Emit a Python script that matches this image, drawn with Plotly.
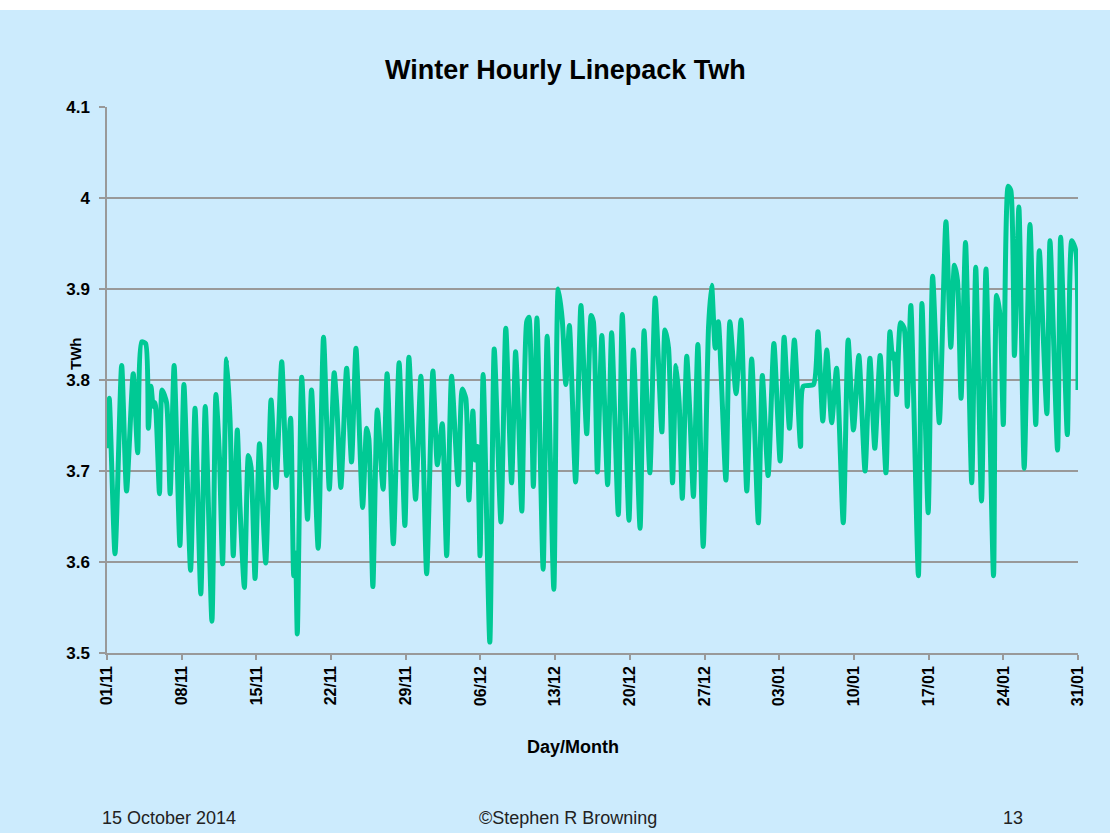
import plotly.graph_objects as go
import pandas as pd

# Hours since 01/11/2014 00:00 at each turning point
hours = [0, 5, 18, 33, 44, 59, 69, 78, 87, 93, 99, 104, 108, 118, 124, 134, 142, 151, 164, 173,
         188, 198, 211, 221, 236, 245, 253, 260, 269, 277, 284, 293, 299, 309, 318, 324, 333, 343,
         357, 369, 380, 393, 404, 413, 420, 424, 428, 438, 451, 460, 475, 487, 500, 511, 517, 526,
         539, 550, 560, 575, 584, 589, 598, 608, 621, 630, 644, 657, 670, 679, 694, 706, 719, 733,
         743, 754, 764, 775, 790, 799, 807, 814, 823, 828, 833, 839, 846, 861, 871, 886, 897, 910,
         919, 925, 933, 944, 949, 959, 967, 981, 990, 1005, 1015, 1024, 1032, 1040, 1054, 1066,
         1079, 1089, 1094, 1103, 1113, 1126, 1135, 1150, 1159, 1174, 1184, 1199, 1208, 1221, 1233,
         1248, 1255, 1263, 1272, 1280, 1287, 1294, 1304, 1311, 1319, 1329, 1341, 1353, 1360, 1368,
         1375, 1392, 1401, 1415, 1426, 1439, 1450, 1465, 1474, 1487, 1500, 1514, 1523, 1535, 1546,
         1560, 1566, 1589, 1599, 1610, 1619, 1630, 1641, 1656, 1667, 1679, 1691, 1705, 1716, 1727,
         1739, 1752, 1761, 1767, 1770, 1776, 1785, 1793, 1800, 1808, 1825, 1833, 1847, 1857, 1872,
         1887, 1898, 1906, 1913, 1921, 1931, 1945, 1954, 1967, 1977, 1994, 2001, 2009, 2016, 2027,
         2033, 2041, 2051, 2063, 2076, 2089, 2097, 2114, 2121, 2138, 2145, 2160, 2170, 2179, 2184]

linepack = [3.725, 3.780, 3.609, 3.816, 3.678, 3.807, 3.720, 3.842, 3.840, 3.747, 3.793, 3.771,
            3.775, 3.675, 3.789, 3.775, 3.675, 3.816, 3.618, 3.795, 3.591, 3.769, 3.565, 3.771,
            3.535, 3.784, 3.715, 3.598, 3.823, 3.753, 3.607, 3.745, 3.662, 3.572, 3.717, 3.704,
            3.582, 3.730, 3.599, 3.778, 3.682, 3.820, 3.695, 3.758, 3.585, 3.610, 3.521, 3.803,
            3.647, 3.789, 3.615, 3.847, 3.680, 3.808, 3.771, 3.682, 3.813, 3.710, 3.835, 3.660,
            3.747, 3.735, 3.573, 3.767, 3.680, 3.807, 3.620, 3.819, 3.640, 3.825, 3.669, 3.804,
            3.587, 3.810, 3.707, 3.752, 3.607, 3.804, 3.685, 3.790, 3.780, 3.668, 3.766, 3.712,
            3.727, 3.607, 3.806, 3.512, 3.834, 3.644, 3.857, 3.687, 3.831, 3.770, 3.656, 3.864,
            3.869, 3.683, 3.868, 3.592, 3.848, 3.570, 3.900, 3.866, 3.795, 3.860, 3.688, 3.882,
            3.741, 3.871, 3.864, 3.699, 3.849, 3.685, 3.852, 3.652, 3.872, 3.646, 3.833, 3.637,
            3.854, 3.698, 3.890, 3.743, 3.855, 3.835, 3.687, 3.816, 3.774, 3.670, 3.826, 3.763,
            3.672, 3.839, 3.617, 3.858, 3.904, 3.835, 3.864, 3.690, 3.864, 3.785, 3.866, 3.678,
            3.823, 3.643, 3.805, 3.695, 3.840, 3.711, 3.847, 3.747, 3.844, 3.727, 3.793, 3.795,
            3.853, 3.755, 3.833, 3.753, 3.813, 3.643, 3.844, 3.745, 3.827, 3.700, 3.824, 3.725,
            3.827, 3.698, 3.853, 3.824, 3.829, 3.784, 3.863, 3.857, 3.771, 3.882, 3.585, 3.884,
            3.654, 3.914, 3.753, 3.974, 3.836, 3.926, 3.909, 3.780, 3.951, 3.687, 3.924, 3.667,
            3.922, 3.585, 3.893, 3.869, 3.751, 4.013, 4.008, 3.827, 3.990, 3.703, 3.971, 3.751,
            3.942, 3.763, 3.953, 3.723, 3.957, 3.740, 3.953, 3.942, 3.789]

start = pd.Timestamp("2014-11-01")
times = [start + pd.Timedelta(hours=h) for h in hours]

tick_dates = pd.date_range("2014-11-01", "2015-01-31", freq="7D")
tick_text = [d.strftime("%d/%m") for d in tick_dates]
y_ticks = [3.5, 3.6, 3.7, 3.8, 3.9, 4.0, 4.1]
y_text = ["3.5", "3.6", "3.7", "3.8", "3.9", "4", "4.1"]

BG = "#CCEBFD"
FONT = "Arial, Liberation Sans, sans-serif"

fig = go.Figure()
fig.add_trace(go.Scatter(
    x=times, y=linepack, mode="lines",
    line=dict(color="#00C994", width=5, shape="spline", smoothing=0.6),
    hoverinfo="x+y", showlegend=False,
))

L, R, T, B = 107, 1078, 107, 653
W, H = 1110, 833

def px(x):
    return (x - L) / (R - L)

def py(y):
    return (B - y) / (B - T)

fig.update_layout(
    width=W, height=H,
    margin=dict(l=L, r=W - R, t=T, b=H - B),
    paper_bgcolor=BG, plot_bgcolor=BG,
    font=dict(family=FONT, color="#000000"),
    xaxis=dict(
        type="date",
        range=[tick_dates[0], tick_dates[-1]],
        tickmode="array", tickvals=list(tick_dates), ticktext=tick_text,
        tickangle=-90, tickfont=dict(size=16, family=FONT, weight="bold"),
        ticks="outside", ticklen=5, tickcolor="#999999", tickwidth=1.5,
        showline=True, linecolor="#999999", linewidth=1.5,
        showgrid=False, zeroline=False,
    ),
    yaxis=dict(
        range=[3.5, 4.1],
        tickmode="array", tickvals=y_ticks, ticktext=y_text,
        tickfont=dict(size=17, family=FONT, weight="bold"),
        ticks="outside", ticklen=6, tickcolor="#999999", tickwidth=1.5,
        ticklabelstandoff=6,
        showline=True, linecolor="#999999", linewidth=1.5,
        showgrid=True, gridcolor="#999999", gridwidth=1.5,
        zeroline=False,
    ),
    shapes=[dict(type="rect", xref="paper", yref="paper",
                 x0=px(-5), x1=px(W + 5), y0=py(10), y1=py(-5),
                 fillcolor="#FFFFFF", line=dict(width=0), layer="above")],
    annotations=[
        dict(text="<b>Winter Hourly Linepack Twh</b>", xref="paper", yref="paper",
             x=px(565), y=py(70), xanchor="center", yanchor="middle",
             showarrow=False, font=dict(size=27, family=FONT, color="#000000")),
        dict(text="<b>TWh</b>", xref="paper", yref="paper",
             x=px(75), y=py(354), xanchor="center", yanchor="middle", textangle=-90,
             showarrow=False, font=dict(size=15, family=FONT, color="#000000")),
        dict(text="<b>Day/Month</b>", xref="paper", yref="paper",
             x=px(573), y=py(747), xanchor="center", yanchor="middle",
             showarrow=False, font=dict(size=18, family=FONT, color="#000000")),
        dict(text="15 October 2014", xref="paper", yref="paper",
             x=px(100), y=py(818), xanchor="left", yanchor="middle",
             showarrow=False, font=dict(size=18, family=FONT, color="#222222")),
        dict(text="©Stephen R Browning", xref="paper", yref="paper",
             x=px(568), y=py(818), xanchor="center", yanchor="middle",
             showarrow=False, font=dict(size=18, family=FONT, color="#222222")),
        dict(text="13", xref="paper", yref="paper",
             x=px(1013), y=py(818), xanchor="center", yanchor="middle",
             showarrow=False, font=dict(size=18, family=FONT, color="#222222")),
    ],
)

fig.write_html(
    "out.html",
    config={"displayModeBar": False},
    post_script="document.body.style.margin='0';document.body.style.overflow='hidden';",
)
